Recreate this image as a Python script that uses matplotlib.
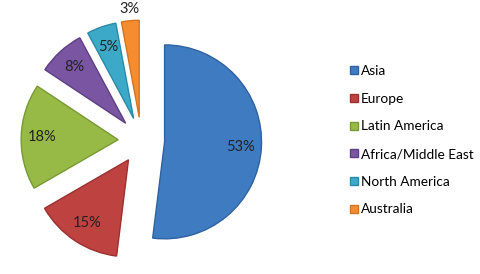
import numpy as np
import matplotlib
matplotlib.use('Agg')
import matplotlib.pyplot as plt

# Data
regions = ['Asia', 'Europe', 'Latin America', 'Africa/Middle East', 'North America', 'Australia']
shares = [53, 15, 18, 8, 5, 3]
colors = ['#3e7bc1', '#bd4240', '#97ba46', '#7a56a2', '#3ca9c8', '#f58d30']
edges = ['#2f62a0', '#9a3230', '#789a34', '#5e3e84', '#2a8aa8', '#d47420']

plt.rcParams['font.family'] = ['Lato', 'DejaVu Sans']

fig = plt.figure(figsize=(4.8, 2.74), dpi=100)
ax = fig.add_axes([0.042, 0.045, 0.505, 0.885])

wedges, texts, autotexts = ax.pie(
    shares, colors=colors, explode=[0.24] * len(shares),
    startangle=90, counterclock=False,
    autopct='%d', pctdistance=0.78,
    wedgeprops=dict(linewidth=1.0),
    textprops=dict(fontsize=10.5, color='#222222'))

for w, ec, t, s in zip(wedges, edges, autotexts, shares):
    w.set_edgecolor(ec)
    t.set_text(f'{s}%')

# Smallest slice label sits outside the wedge
w = wedges[-1]
tm = np.deg2rad((w.theta1 + w.theta2) / 2)
cx, cy = w.center
autotexts[-1].set_position((cx + 1.12 * w.r * np.cos(tm), cy + 1.12 * w.r * np.sin(tm)))

ax.set_aspect('equal')

fig.legend(wedges, regions, loc='center left', bbox_to_anchor=(0.704, 0.488),
           frameon=False, fontsize=9.8, handlelength=0.55, handleheight=0.55,
           handletextpad=0.25, labelspacing=1.15)

plt.savefig('out.png', dpi=100)
